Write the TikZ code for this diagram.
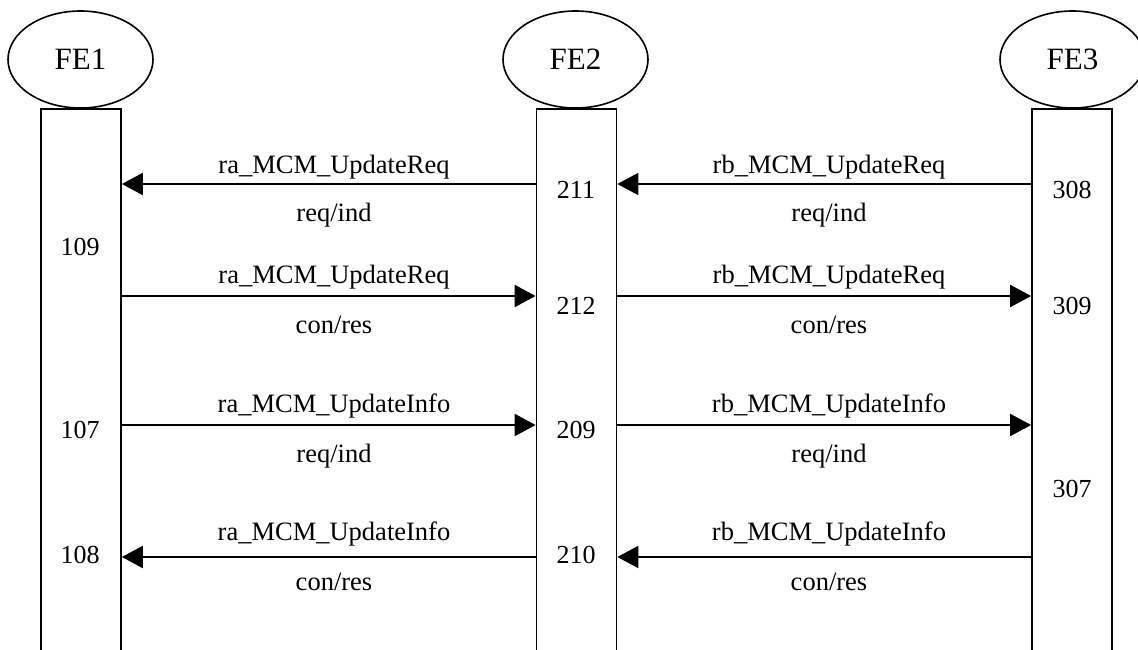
\documentclass[tikz,border=0pt]{standalone}
\usepackage{fontspec}
\setmainfont{Liberation Serif}
\usetikzlibrary{arrows.meta,shapes.geometric}
\begin{document}
\begin{tikzpicture}[x=1pt,y=-1pt,
  fe/.style={draw,line width=1.6pt,ellipse,minimum width=145pt,minimum height=97pt,inner sep=0pt,font=\fontsize{31}{36}\selectfont},
  life/.style={draw,line width=1.7pt,rectangle,minimum width=80pt,minimum height=580pt,anchor=north,inner sep=0pt},
  msg/.style={line width=2pt,-{Triangle[length=21pt,width=22pt]}},
  lbl/.style={anchor=base,inner sep=0pt,font=\fontsize{26.5}{30}\selectfont},
  num/.style={anchor=base,inner sep=0pt,font=\fontsize{26}{30}\selectfont}]
\useasboundingbox (0,0) rectangle (1138,650);
% lifelines
\node[life] (l1) at (81,108) {};
\node[life] (l2) at (576.5,108) {};
\node[life] (l3) at (1072,108) {};
% heads
\node[fe] (fe1) at (80.5,59.5) {FE1};
\node[fe] (fe2) at (575.5,59.5) {FE2};
\node[fe] (fe3) at (1072.5,59.5) {FE3};
% rows
\coordinate (r1) at (0,184);
\coordinate (r2) at (0,296);
\coordinate (r3) at (0,425);
\coordinate (r4) at (0,557);
% arrows
\draw[msg] (l2.west |- r1) -- (l1.east |- r1);
\draw[msg] (l3.west |- r1) -- (l2.east |- r1);
\draw[msg] (l1.east |- r2) -- (l2.west |- r2);
\draw[msg] (l2.east |- r2) -- (l3.west |- r2);
\draw[msg] (l1.east |- r3) -- (l2.west |- r3);
\draw[msg] (l2.east |- r3) -- (l3.west |- r3);
\draw[msg] (l2.west |- r4) -- (l1.east |- r4);
\draw[msg] (l3.west |- r4) -- (l2.east |- r4);
% labels left
\node[lbl] (a1) at (334,173) {ra\_MCM\_UpdateReq};
\node[lbl] (b1) at (334,221) {req/ind};
\node[lbl] (a2) at (334,283) {ra\_MCM\_UpdateReq};
\node[lbl] (b2) at (334,333) {con/res};
\node[lbl] (a3) at (334,412) {ra\_MCM\_UpdateInfo};
\node[lbl] (b3) at (334,462) {req/ind};
\node[lbl] (a4) at (334,540) {ra\_MCM\_UpdateInfo};
\node[lbl] (b4) at (334,590) {con/res};
% labels right
\node[lbl] (c1) at (829,173) {rb\_MCM\_UpdateReq};
\node[lbl] (d1) at (829,221) {req/ind};
\node[lbl] (c2) at (829,283) {rb\_MCM\_UpdateReq};
\node[lbl] (d2) at (829,333) {con/res};
\node[lbl] (c3) at (829,412) {rb\_MCM\_UpdateInfo};
\node[lbl] (d3) at (829,462) {req/ind};
\node[lbl] (c4) at (829,540) {rb\_MCM\_UpdateInfo};
\node[lbl] (d4) at (829,590) {con/res};
% numbers
\node[num] (n109) at (80,255) {109};
\node[num] (n107) at (80,438) {107};
\node[num] (n108) at (80,563) {108};
\node[num] (n211) at (576,198) {211};
\node[num] (n212) at (576,314) {212};
\node[num] (n209) at (576,438) {209};
\node[num] (n210) at (576,563) {210};
\node[num] (n308) at (1072,198) {308};
\node[num] (n309) at (1072,314) {309};
\node[num] (n307) at (1072,497) {307};
\end{tikzpicture}
\end{document}
